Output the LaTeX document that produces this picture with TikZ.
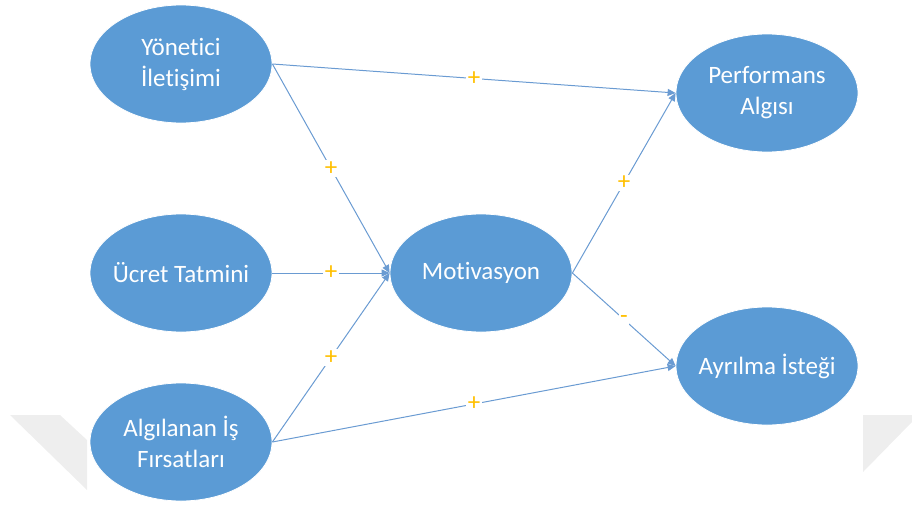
\documentclass[tikz,border=0pt]{standalone}
\usepackage{fontspec}
\setmainfont{Carlito}[Ligatures=NoCommon]
\usetikzlibrary{arrows.meta,shapes.geometric}
\definecolor{nodeblue}{HTML}{5B9BD5}
\definecolor{linkblue}{HTML}{6A9BD2}
\definecolor{signgold}{HTML}{FFC000}
\definecolor{markgray}{HTML}{EEEEEE}
\tikzset{
  concept/.style={ellipse, fill=nodeblue, draw=white, line width=0.8pt,
    minimum width=182pt, minimum height=118pt, inner sep=-14pt,
    text=white, align=center, font=\fontsize{25}{31}\selectfont},
  link/.style={draw=linkblue, line width=1pt,
    -{Triangle[length=8pt,width=7pt]}},
  sign/.style={fill=white, text=signgold, inner sep=1.5pt,
    font=\fontsize{25}{25}\selectfont},
}
\begin{document}
\begin{tikzpicture}[x=1pt,y=-1pt]
  \useasboundingbox (0,0) rectangle (912,506);
  % faint corner marks
  \fill[markgray] (10,415) -- (60,415) -- (87,440) -- (87,490) -- cycle;
  \fill[markgray] (863,415) -- (912,415) -- (912,422) -- (863,472) -- cycle;

  % concepts
  \node[concept] (yon) at (181,64) {Yönetici\\İletişimi};
  \node[concept] (ucr) at (181,273) {Ücret Tatmini};
  \node[concept] (alg) at (181,442) {Algılanan İş\\Fırsatları};
  \node[concept] (mot) at (481,273) {Motivasyon};
  \node[concept] (per) at (767,93) {Performans\\Algısı};
  \node[concept] (ayr) at (767,366) {Ayrılma İsteği};

  % relations
  \draw[link] (yon.east) -- node[sign, pos=0.5] {+} (per.west);
  \draw[link] (yon.east) -- node[sign, pos=0.5] {+} (mot.west);
  \draw[link] (ucr.east) -- node[sign, pos=0.5] {+} (mot.west);
  \draw[link] (alg.east) -- node[sign, pos=0.5] {+} (mot.west);
  \draw[link] (alg.east) -- node[sign, pos=0.5] {+} (ayr.west);
  \draw[link] (mot.east) -- node[sign, pos=0.5] {+} (per.west);
  \draw[link] (mot.east) -- node[sign, pos=0.5] {-} (ayr.west);
\end{tikzpicture}
\end{document}
